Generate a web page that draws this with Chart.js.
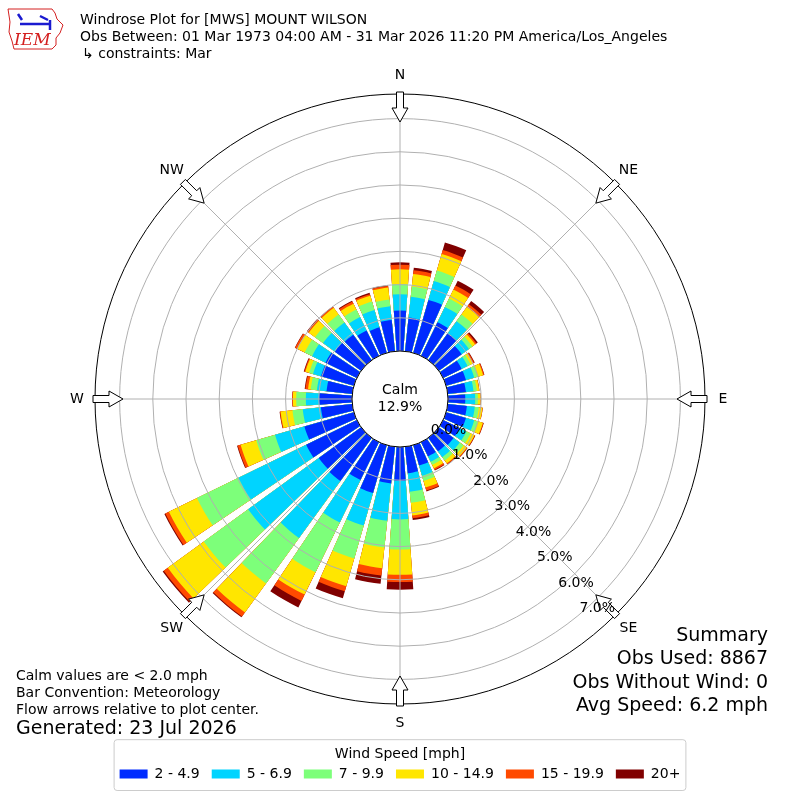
<!DOCTYPE html>
<html>
<head>
<meta charset="utf-8">
<title>Windrose Plot for [MWS] MOUNT WILSON</title>
<script src="https://cdn.jsdelivr.net/npm/chart.js@4.4.1/dist/chart.umd.min.js"></script>
<style>
    html, body { margin: 0; padding: 0; background: #fff; }
    #wrap { width: 800px; height: 800px; }
</style>
</head>
<body>
<div id="wrap"><canvas id="windrose" width="800" height="800"></canvas></div>
<script>
// Direction bins (degrees, meteorological convention), 10 degree sectors
const directions = [0, 10, 20, 30, 40, 50, 60, 70, 80, 90, 100, 110, 120, 130, 140, 150, 160, 170,
    180, 190, 200, 210, 220, 230, 240, 250, 260, 270, 280, 290, 300, 310, 320, 330, 340, 350];

const speedBins = ['2 - 4.9', '5 - 6.9', '7 - 9.9', '10 - 14.9', '15 - 19.9', '20+'];
const binColors = ['#002bff', '#00d4ff', '#7dff7a', '#ffe600', '#ff4a00', '#800000'];

// Frequency (% of observations) per speed bin, one value per direction
const pct2to5 = [1.22, 1.02, 1.66, 1.13, 1.00, 0.85, 0.62, 0.62, 0.55, 0.52, 0.58, 0.62,
    0.55, 0.55, 0.50, 0.48, 0.64, 0.80, 1.02, 1.11, 1.50, 1.27, 1.61, 1.58,
    1.70, 1.55, 0.95, 0.99, 0.78, 1.03, 1.05, 0.98, 0.95, 0.85, 0.80, 0.95];
const pct5to7 = [0.49, 0.63, 0.59, 0.51, 0.45, 0.27, 0.20, 0.26, 0.23, 0.30, 0.24, 0.26,
    0.23, 0.23, 0.22, 0.18, 0.32, 0.56, 1.16, 1.13, 1.02, 1.42, 2.12, 2.63,
    2.27, 0.92, 0.55, 0.40, 0.29, 0.25, 0.45, 0.44, 0.45, 0.45, 0.54, 0.41];
const pct7to10 = [0.31, 0.31, 0.33, 0.28, 0.25, 0.13, 0.10, 0.12, 0.10, 0.08, 0.12, 0.12,
    0.14, 0.14, 0.12, 0.10, 0.16, 0.34, 0.91, 0.81, 1.03, 1.67, 1.69, 1.65,
    1.39, 0.59, 0.31, 0.29, 0.19, 0.12, 0.25, 0.30, 0.30, 0.25, 0.27, 0.21];
const pct10to15 = [0.44, 0.38, 0.52, 0.30, 0.28, 0.10, 0.08, 0.16, 0.07, 0.08, 0.11, 0.15,
    0.13, 0.12, 0.11, 0.12, 0.21, 0.38, 0.76, 0.63, 0.87, 0.75, 1.08, 1.34,
    0.94, 0.49, 0.36, 0.10, 0.08, 0.12, 0.25, 0.23, 0.25, 0.20, 0.18, 0.36];
const pct15to20 = [0.14, 0.11, 0.12, 0.14, 0.10, 0.05, 0.04, 0.03, 0.01, 0.01, 0.01, 0.02,
    0.02, 0.02, 0.03, 0.05, 0.09, 0.08, 0.22, 0.22, 0.16, 0.21, 0.15, 0.15,
    0.12, 0.09, 0.02, 0.02, 0.08, 0.03, 0.07, 0.05, 0.04, 0.07, 0.05, 0.05];
const pct20up = [0.07, 0.08, 0.24, 0.16, 0.12, 0.05, 0.02, 0.01, 0.00, 0.00, 0.00, 0.01,
    0.01, 0.01, 0.01, 0.02, 0.03, 0.06, 0.23, 0.25, 0.22, 0.22, 0.03, 0.04,
    0.03, 0.02, 0.01, 0.00, 0.02, 0.02, 0.01, 0.02, 0.01, 0.03, 0.04, 0.02];

const ringValues = [0, 1, 2, 3, 4, 5, 6, 7];
const compassPoints = ['N', 'NE', 'E', 'SE', 'S', 'SW', 'W', 'NW'];
const calmPct = 12.9;

const titleLines = [
    'Windrose Plot for [MWS] MOUNT WILSON',
    'Obs Between: 01 Mar 1973 04:00 AM - 31 Mar 2026 11:20 PM America/Los_Angeles',
    '\u21b3 constraints: Mar'
];
const noteLines = ['Calm values are < 2.0 mph', 'Bar Convention: Meteorology', 'Flow arrows relative to plot center.'];
const generatedLine = 'Generated: 23 Jul 2026';
const summaryLines = ['Summary', 'Obs Used: 8867', 'Obs Without Wind: 0', 'Avg Speed: 6.2 mph'];

// radial axis: 0% sits on the edge of the calm circle
const PX_PER_PCT = 33.2;
const CALM_R = 48;
const OUTER_R = 305;
const R_MIN = -CALM_R / PX_PER_PCT;
const R_MAX = R_MIN + OUTER_R / PX_PER_PCT;
const FONT = "'DejaVu Sans', 'Liberation Sans', sans-serif";

Chart.defaults.font.family = FONT;
Chart.defaults.color = '#000';

// Stack the bins by drawing cumulative totals; every sector is followed
// by an empty slot so the bars get the 2 degree white gap.
const binSeries = [pct2to5, pct5to7, pct7to10, pct10to15, pct15to20, pct20up];
const running = directions.map(() => 0);
const datasets = binSeries.map((series, k) => {
    const data = [];
    directions.forEach((d, i) => {
        running[i] += series[i];
        data.push(running[i]);
        data.push(R_MIN);
    });
    return {
        label: speedBins[k],
        data: data,
        backgroundColor: binColors[k],
        borderWidth: 0,
        angle: (ctx) => (ctx.index % 2 ? 2 : 8)
    };
});

const isRing = (v) => v >= -1e-6 && Math.abs(v - Math.round(v)) < 1e-6 && v < R_MAX - 0.01;

// distance from centre for a value on the radial scale
const radiusOf = (s, v) => (v - s.min) * s.drawingArea / (s.max - s.min);

const roseDecor = {
    id: 'roseDecor',
    afterDatasetsDraw(chart) {
        const s = chart.scales.r;
        const ctx = chart.ctx;
        ctx.save();
        ctx.strokeStyle = '#b0b0b0';
        ctx.lineWidth = 1;
        compassPoints.forEach((p, i) => {
            const a = i * 45 * Math.PI / 180;
            ctx.beginPath();
            ctx.moveTo(s.xCenter, s.yCenter);
            ctx.lineTo(s.xCenter + s.drawingArea * Math.sin(a), s.yCenter - s.drawingArea * Math.cos(a));
            ctx.stroke();
        });
        ctx.restore();
    },
    afterDraw(chart) {
        const s = chart.scales.r;
        const ctx = chart.ctx;
        const cx = s.xCenter, cy = s.yCenter;
        const outer = radiusOf(s, s.max);
        ctx.save();

        // calm circle
        const calmR = radiusOf(s, 0);
        ctx.beginPath();
        ctx.arc(cx, cy, calmR, 0, Math.PI * 2);
        ctx.fillStyle = '#fff';
        ctx.fill();
        ctx.strokeStyle = '#000';
        ctx.lineWidth = 1;
        ctx.stroke();
        ctx.fillStyle = '#000';
        ctx.font = '14px ' + FONT;
        ctx.textAlign = 'center';
        ctx.textBaseline = 'middle';
        ctx.fillText('Calm', cx, cy - 9);
        ctx.fillText(calmPct.toFixed(1) + '%', cx, cy + 8);

        // outer frame
        ctx.beginPath();
        ctx.arc(cx, cy, outer, 0, Math.PI * 2);
        ctx.stroke();

        // inward flow arrows and compass labels
        compassPoints.forEach((p, i) => {
            const a = i * 45 * Math.PI / 180;
            const ux = -Math.sin(a), uy = Math.cos(a);
            const px = Math.cos(a), py = Math.sin(a);
            const ox = cx + (outer + 2) * Math.sin(a), oy = cy - (outer + 2) * Math.cos(a);
            const pts = [[0, -3.5], [16, -3.5], [16, -8], [30, 0], [16, 8], [16, 3.5], [0, 3.5]];
            ctx.beginPath();
            pts.forEach(([t, w], j) => {
                const x = ox + ux * t + px * w, y = oy + uy * t + py * w;
                if (j === 0) ctx.moveTo(x, y); else ctx.lineTo(x, y);
            });
            ctx.closePath();
            ctx.fillStyle = '#fff';
            ctx.fill();
            ctx.strokeStyle = '#000';
            ctx.stroke();
            ctx.fillStyle = '#000';
            ctx.textAlign = 'center';
            ctx.fillText(p, cx + (outer + 18) * Math.sin(a), cy - (outer + 19) * Math.cos(a));
        });

        // ring labels
        const la = 140.2 * Math.PI / 180;
        ctx.textAlign = 'left';
        ringValues.forEach(v => {
            const r = radiusOf(s, v);
            ctx.fillText(v.toFixed(1) + '%', cx + r * Math.sin(la), cy - r * Math.cos(la) - 6);
        });

        // header
        drawLogo(ctx);
        ctx.fillStyle = '#000';
        ctx.font = '14px ' + FONT;
        ctx.textAlign = 'left';
        ctx.textBaseline = 'middle';
        titleLines.forEach((t, i) => ctx.fillText(t, i === 2 ? 82 : 80, 20 + i * 17));

        // footer notes
        noteLines.forEach((t, i) => ctx.fillText(t, 16, 676 + i * 17));
        ctx.font = '19px ' + FONT;
        ctx.fillText(generatedLine, 16, 729);
        ctx.textAlign = 'right';
        summaryLines.forEach((t, i) => ctx.fillText(t, 768, 636 + i * 23.5));

        // legend frame
        const lg = chart.legend;
        if (lg && lg.legendHitBoxes.length) {
            const hb = lg.legendHitBoxes;
            const l = Math.min(...hb.map(h => h.left)) - 6;
            const r = Math.max(...hb.map(h => h.left + h.width)) + 5;
            ctx.beginPath();
            ctx.roundRect(l + 0.5, lg.top + 5.5, r - l, lg.bottom - lg.top - 6, 3);
            ctx.strokeStyle = '#cccccc';
            ctx.lineWidth = 1;
            ctx.stroke();
        }
        ctx.restore();
    }
};

function drawLogo(ctx) {
    ctx.save();
    // rough state outline
    ctx.strokeStyle = '#d42020';
    ctx.lineWidth = 1;
    ctx.beginPath();
    const outline = [[8, 9], [52, 9], [55, 13], [57, 19], [63, 25], [60, 33], [56, 38], [56, 45], [52, 49], [14, 49], [12, 41], [9, 32], [10, 22]];
    outline.forEach(([x, y], i) => (i ? ctx.lineTo(x, y) : ctx.moveTo(x, y)));
    ctx.closePath();
    ctx.stroke();
    // wind barb
    ctx.strokeStyle = '#1a1ad0';
    ctx.lineWidth = 2.5;
    ctx.beginPath();
    ctx.moveTo(20, 24); ctx.lineTo(50, 24);
    ctx.moveTo(18, 14); ctx.lineTo(22, 20);
    ctx.moveTo(40, 16); ctx.lineTo(48, 20);
    ctx.moveTo(50, 20); ctx.lineTo(50, 30);
    ctx.stroke();
    ctx.fillStyle = '#d42020';
    ctx.font = 'italic 17px "DejaVu Serif", "Liberation Serif", serif';
    ctx.textAlign = 'left';
    ctx.textBaseline = 'alphabetic';
    ctx.fillText('IEM', 14, 45);
    ctx.restore();
}

new Chart(document.getElementById('windrose'), {
    type: 'polarArea',
    data: {
        labels: directions.flatMap(d => [d + '\u00b0', '']),
        datasets: datasets
    },
    options: {
        responsive: false,
        animation: false,
        events: [],
        layout: { padding: { left: 95, right: 95, top: 64, bottom: 9 } },
        scales: {
            r: {
                min: R_MIN,
                max: R_MAX,
                startAngle: -4,
                ticks: { display: false, stepSize: 1 },
                grid: {
                    z: 1,
                    lineWidth: 1,
                    color: (ctx) => (ctx.tick && isRing(ctx.tick.value) ? '#b0b0b0' : 'rgba(0,0,0,0)')
                },
                angleLines: { display: false },
                pointLabels: { display: false }
            }
        },
        plugins: {
            legend: {
                position: 'bottom',
                onClick: () => {},
                title: {
                    display: true,
                    text: 'Wind Speed [mph]',
                    font: { size: 14 },
                    padding: { top: 13, bottom: -9 }
                },
                labels: {
                    boxWidth: 28,
                    boxHeight: 9,
                    padding: 12,
                    font: { size: 14 },
                    generateLabels: (chart) => chart.data.datasets.map((ds, i) => ({
                        text: ds.label,
                        fillStyle: ds.backgroundColor,
                        strokeStyle: ds.backgroundColor,
                        lineWidth: 0,
                        hidden: false,
                        datasetIndex: i
                    }))
                }
            },
            tooltip: { enabled: false }
        }
    },
    plugins: [roseDecor]
});
</script>
</body>
</html>
